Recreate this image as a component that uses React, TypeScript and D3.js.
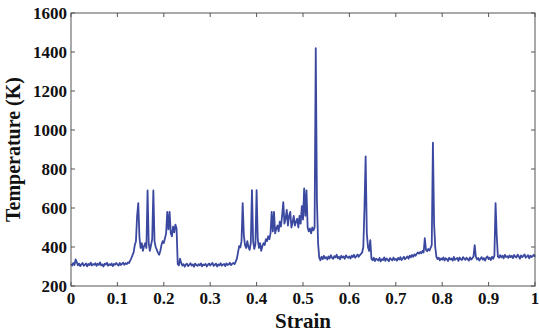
import React from "react";
import * as d3 from "d3";

// Temperature (K) sampled every 0.0025 strain, split by strain range
const tempA = [312,305,318,308,336,322,306,315,302,311,318,304,309,316,301,313,307,320,305,312,
  309,317,303,314,308,321,306,311,300,315,310,319,304,312,307,316,302,313,309,318];
const tempB = [311,305,318,308,314,320,309,317,312,321,318,330,342,358,372,410,430,560,625,450,
  395,420,380,405,420,395,690,420,380,410,440,690,430,400,385,370,360,380,410,430];
const tempC = [420,445,470,580,490,580,470,455,505,475,515,495,312,306,340,318,305,312,299,310,
  314,302,309,317,305,311,299,315,308,303,312,306,316,301,310,307,313,300,309,315];
const tempD = [305,312,318,303,309,315,300,311,306,317,304,310,313,302,316,308,311,319,307,314,
  318,312,325,340,372,405,398,430,625,460,410,395,430,400,385,420,692,430,390,415];
const tempE = [692,440,395,420,380,405,420,410,440,430,455,440,470,580,480,580,470,495,510,480,
  530,505,560,630,520,545,590,510,560,580,500,525,560,510,530,545,500,560,520,610];
const tempF = [540,700,560,690,500,480,495,470,500,485,500,1420,640,420,345,332,350,338,355,342,
  348,336,352,341,358,345,339,353,347,360,342,350,337,355,346,351,340,357,349,344];
const tempG = [352,341,356,348,360,345,353,362,350,358,365,372,400,600,865,470,400,380,435,340,
  332,345,328,340,336,330,344,326,338,333,347,329,341,335,327,343,337,331,346,334];
const tempH = [339,330,344,336,348,333,341,350,337,345,352,340,356,347,359,350,362,355,365,372,
  366,374,368,380,372,445,385,378,390,382,395,410,935,520,400,350,338,345,332,341];
const tempI = [335,347,331,342,338,328,345,336,341,330,349,334,339,344,329,346,337,333,348,340,
  334,345,338,330,347,336,342,352,410,350,336,344,331,340,348,335,343,330,346,352];
const tempJ = [338,345,333,350,340,355,625,460,352,345,358,347,355,342,360,349,353,344,357,348,
  355,343,359,350,346,361,352,340,357,348,354,362,345,351,358,342,356,349,353,360,350];

const strainStep = 0.0025;
const xTicks = [0, 0.1, 0.2, 0.3, 0.4, 0.5, 0.6, 0.7, 0.8, 0.9, 1];
const xTickLabels = ["0", "0.1", "0.2", "0.3", "0.4", "0.5", "0.6", "0.7", "0.8", "0.9", "1"];
const yTicks = [200, 400, 600, 800, 1000, 1200, 1400, 1600];

const W = 539, H = 336;
const L = 71, R = 535, T = 13, B = 286;
const FONT = "'Liberation Serif', 'Times New Roman', serif";

export default function App() {
  const temps = [...tempA, ...tempB, ...tempC, ...tempD, ...tempE, ...tempF, ...tempG, ...tempH, ...tempI, ...tempJ];
  const data = temps.map((t, i) => ({ s: i * strainStep, t }));
  const x = d3.scaleLinear().domain([0, 1]).range([L, R]);
  const y = d3.scaleLinear().domain([200, 1600]).range([B, T]);
  const line = d3.line<{ s: number; t: number }>().x(d => x(d.s)).y(d => y(d.t));
  const axisColor = "#555";
  const tl = 4;
  return (
    <svg width={W} height={H} style={{ position: "absolute", left: 0, top: 0, background: "#fff" }}>
      <path d={line(data) || ""} fill="none" stroke="#3a48a0" strokeWidth={1.8} strokeLinejoin="round" />
      <rect x={L} y={T} width={R - L} height={B - T} fill="none" stroke={axisColor} strokeWidth={1} />
      {xTicks.map((v, i) => (
        <g key={"x" + i}>
          <line x1={x(v)} x2={x(v)} y1={B} y2={B - tl} stroke={axisColor} />
          <line x1={x(v)} x2={x(v)} y1={T} y2={T + tl} stroke={axisColor} />
          <text x={x(v)} y={304} textAnchor="middle" fontFamily={FONT} fontWeight="bold" fontSize={17} fill="#111">
            {xTickLabels[i]}
          </text>
        </g>
      ))}
      {yTicks.map((v, i) => (
        <g key={"y" + i}>
          <line x1={L} x2={L + tl} y1={y(v)} y2={y(v)} stroke={axisColor} />
          <line x1={R} x2={R - tl} y1={y(v)} y2={y(v)} stroke={axisColor} />
          <text x={67} y={y(v)} dy="0.35em" textAnchor="end" fontFamily={FONT} fontWeight="bold" fontSize={17} fill="#111">
            {v}
          </text>
        </g>
      ))}
      <text x={(L + R) / 2} y={328} textAnchor="middle" fontFamily={FONT} fontWeight="bold" fontSize={21} fill="#111">
        Strain
      </text>
      <text transform={`translate(20,${(T + B) / 2}) rotate(-90)`} textAnchor="middle" fontFamily={FONT} fontWeight="bold" fontSize={20} fill="#111">
        Temperature (K)
      </text>
    </svg>
  );
}
